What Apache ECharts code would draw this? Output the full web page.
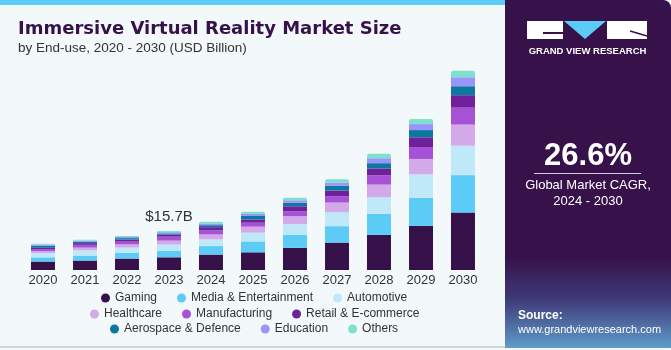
<!DOCTYPE html>
<html>
<head>
<meta charset="utf-8">
<script src="https://cdn.jsdelivr.net/npm/echarts@6/dist/echarts.min.js"></script>
<style>
    html, body { margin: 0; padding: 0; background: #f3f8fb; }
    #chart { width: 671px; height: 350px; }
</style>
</head>
<body>
<div id="chart"></div>
<script>
// years on the x axis
const years = ['2020', '2021', '2022', '2023', '2024', '2025', '2026', '2027', '2028', '2029', '2030']

// USD billion
const gaming        = [3.4, 3.8, 4.6, 5.1, 6.2, 7.1, 8.9, 11.0, 14.1, 17.7, 23.1]
const media         = [1.7, 2.0, 2.3, 2.7, 3.4, 4.4, 5.2, 6.6, 8.5, 11.3, 15.0]
const automotive    = [1.7, 2.1, 2.1, 2.4, 2.7, 3.5, 4.3, 5.6, 6.7, 9.4, 11.8]
const healthcare    = [0.8, 1.1, 1.3, 1.6, 2.0, 2.4, 3.2, 3.9, 5.0, 6.2, 8.5]
const manufacturing = [0.8, 1.1, 1.1, 1.6, 1.6, 1.6, 2.0, 2.5, 3.7, 4.8, 6.8]
const retail        = [0.5, 0.7, 0.8, 0.8, 1.3, 1.3, 2.0, 2.3, 2.8, 3.9, 5.0]
const aerospace     = [0.9, 0.6, 0.6, 0.5, 0.8, 1.4, 1.4, 1.9, 2.1, 2.9, 3.6]
const education     = [0.4, 0.4, 0.5, 0.5, 0.7, 0.8, 1.0, 1.3, 2.0, 2.4, 3.6]
const others        = [0.3, 0.3, 0.4, 0.5, 0.7, 0.9, 1.0, 1.3, 1.8, 2.0, 2.6]

const callout = { index: 3, text: '$15.7B' }

const seriesList = [
    { name: 'Gaming', data: gaming, color: '#37114a' },
    { name: 'Media & Entertainment', data: media, color: '#5ccbf6' },
    { name: 'Automotive', data: automotive, color: '#bfe9f9' },
    { name: 'Healthcare', data: healthcare, color: '#d4a9ea' },
    { name: 'Manufacturing', data: manufacturing, color: '#a751d6' },
    { name: 'Retail & E-commerce', data: retail, color: '#6f209b' },
    { name: 'Aerospace & Defence', data: aerospace, color: '#0d789f' },
    { name: 'Education', data: education, color: '#9a95fb' },
    { name: 'Others', data: others, color: '#7fe0cb' }
]

const fontFamily = '"Liberation Sans", Arial, sans-serif'
const textColor = '#333333'
const panelX = 505

const chart = echarts.init(document.getElementById('chart'))

const legendRow = (names, left, top) => ({
    data: names,
    left: left,
    top: top,
    orient: 'horizontal',
    icon: 'circle',
    itemWidth: 9,
    itemHeight: 9,
    itemGap: 20,
    padding: 0,
    selectedMode: false,
    textStyle: { fontFamily: fontFamily, fontSize: 12, color: textColor }
})

const option = {
    backgroundColor: '#f3f8fb',
    animation: false,
    grid: { left: 22, right: 671 - 484, top: 21, bottom: 80, containLabel: false },
    legend: [
        legendRow(['Gaming', 'Media & Entertainment', 'Automotive'], 101, 292),
        legendRow(['Healthcare', 'Manufacturing', 'Retail & E-commerce'], 90, 308),
        legendRow(['Aerospace & Defence', 'Education', 'Others'], 110, 323)
    ],
    xAxis: {
        type: 'category',
        data: years,
        axisLine: { show: false },
        axisTick: { show: false },
        axisLabel: { margin: 4, fontFamily: fontFamily, fontSize: 13, color: textColor }
    },
    yAxis: {
        type: 'value',
        min: 0,
        max: 100,
        show: false,
        splitLine: { show: false }
    },
    series: seriesList.map((s, i) => ({
        name: s.name,
        type: 'bar',
        stack: 'total',
        barWidth: 24,
        itemStyle: {
            color: s.color,
            borderRadius: i === seriesList.length - 1 ? [2, 2, 0, 0] : 0
        },
        data: s.data.map((v, j) => {
            if (i === seriesList.length - 1 && j === callout.index) {
                return {
                    value: v,
                    label: {
                        show: true,
                        position: 'top',
                        distance: 7,
                        formatter: callout.text,
                        fontFamily: fontFamily,
                        fontSize: 15,
                        color: textColor
                    }
                }
            }
            return v
        })
    })),
    graphic: [
        // top stripe
        { type: 'rect', shape: { x: 0, y: 0, width: panelX, height: 5 }, style: { fill: '#5ccbf6' } },
        // bottom border
        { type: 'rect', shape: { x: 0, y: 346, width: panelX, height: 2 }, style: { fill: '#cfd6da' } },
        // title
        {
            type: 'text', left: 18, top: 20,
            style: { text: 'Immersive Virtual Reality Market Size', fill: '#37114a', font: 'bold 18px "DejaVu Sans", sans-serif' }
        },
        {
            type: 'text', left: 18, top: 41,
            style: { text: 'by End-use, 2020 - 2030 (USD Billion)', fill: textColor, font: '13.5px ' + fontFamily }
        },
        // right panel
        {
            type: 'rect',
            shape: { x: panelX, y: 0, width: 671 - panelX, height: 348, r: [0, 8, 0, 0] },
            style: {
                fill: new echarts.graphic.LinearGradient(0, 0, 0, 1, [
                    { offset: 0, color: '#37114a' },
                    { offset: 0.74, color: '#37124a' },
                    { offset: 0.86, color: '#3f3a78' },
                    { offset: 1, color: '#5f9cc9' }
                ])
            }
        },
        // logo blocks
        { type: 'rect', shape: { x: 527, y: 21, width: 36, height: 18 }, style: { fill: '#ffffff' } },
        { type: 'rect', shape: { x: 543, y: 32, width: 20, height: 2 }, style: { fill: '#37114a' } },
        { type: 'polygon', shape: { points: [[564, 21], [606, 21], [585, 39]] }, style: { fill: '#5ccbf6' } },
        { type: 'rect', shape: { x: 607, y: 21, width: 40, height: 18 }, style: { fill: '#ffffff' } },
        { type: 'polyline', shape: { points: [[630, 31], [647, 36]] }, style: { stroke: '#37114a', lineWidth: 1.5 } },
        {
            type: 'text', x: 587.5, y: 51,
            style: {
                text: 'GRAND VIEW RESEARCH', fill: '#ffffff', font: 'bold 9.5px ' + fontFamily,
                align: 'center', verticalAlign: 'middle'
            }
        },
        {
            type: 'text', x: 588, y: 156,
            style: { text: '26.6%', fill: '#ffffff', font: 'bold 31px ' + fontFamily, align: 'center', verticalAlign: 'middle' }
        },
        { type: 'rect', shape: { x: 534, y: 173, width: 107, height: 1 }, style: { fill: '#d8cde0' } },
        {
            type: 'text', x: 588, y: 185,
            style: { text: 'Global Market CAGR,', fill: '#ffffff', font: '13px ' + fontFamily, align: 'center', verticalAlign: 'middle' }
        },
        {
            type: 'text', x: 588, y: 201,
            style: { text: '2024 - 2030', fill: '#ffffff', font: '13px ' + fontFamily, align: 'center', verticalAlign: 'middle' }
        },
        {
            type: 'text', x: 518, y: 316,
            style: { text: 'Source:', fill: '#ffffff', font: 'bold 12px ' + fontFamily, verticalAlign: 'middle' }
        },
        {
            type: 'text', x: 518, y: 330,
            style: { text: 'www.grandviewresearch.com', fill: '#ffffff', font: '11px ' + fontFamily, verticalAlign: 'middle' }
        }
    ]
}

chart.setOption(option)
</script>
</body>
</html>
